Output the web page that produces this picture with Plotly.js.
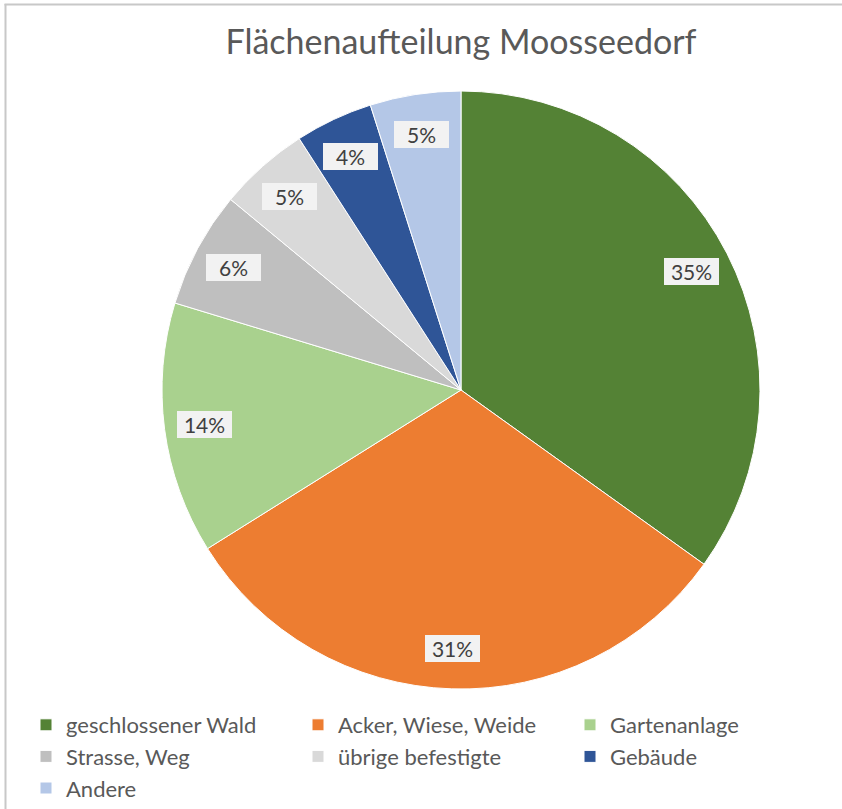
<!DOCTYPE html>
<html>
<head>
<meta charset="utf-8">
<script src="https://cdn.plot.ly/plotly-3.0.1.min.js"></script>
<style>html,body{margin:0;padding:0;background:#fff;}#chart{width:842px;height:809px;}</style>
</head>
<body>
<div id="chart"></div>
<script>
const categories = ["geschlossener Wald", "Acker, Wiese, Weide", "Gartenanlage", "Strasse, Weg", "übrige befestigte", "Gebäude", "Andere"];
const values = [34.9, 31.2, 13.6, 6.3, 4.9, 4.2, 4.9];
const colors = ["#548235", "#ED7D31", "#A9D18E", "#BFBFBF", "#D9D9D9", "#2F5597", "#B4C7E7"];
const chartTitle = "Flächenaufteilung Moosseedorf";

const W = 842, H = 809;
const FONT = "Lato, 'Open Sans', sans-serif";
const domX = [0.1924, 0.9026];
const domY = [0.1477, 0.8881];

// label annotations computed from the data (mid-angle of each slice)
const total = values.reduce((a, b) => a + b, 0);
const cx = (domX[0] + domX[1]) / 2 * W;
const cy = (1 - (domY[0] + domY[1]) / 2) * H;
const R = Math.min((domX[1] - domX[0]) * W, (domY[1] - domY[0]) * H) / 2;
const rLab = 0.865 * R;
let cum = 0;
const annotations = values.map((v, i) => {
  const mid = (cum + v / 2) / total * 2 * Math.PI;
  cum += v;
  const px = cx + rLab * Math.sin(mid);
  const py = cy - rLab * Math.cos(mid);
  return {
    x: px / W, y: 1 - py / H, xref: "paper", yref: "paper",
    text: Math.round(v / total * 100) + "%",
    showarrow: false,
    font: {family: FONT, size: 21, color: "#404040"},
    bgcolor: "#F2F2F2", borderwidth: 0, borderpad: 0,
    width: 55, height: 27, xanchor: "center", yanchor: "middle"
  };
});

const data = [{
  type: "pie",
  labels: categories,
  values: values,
  marker: {colors: colors, line: {color: "#FFFFFF", width: 1}},
  sort: false,
  direction: "clockwise",
  rotation: 0,
  textinfo: "none",
  hoverinfo: "label+percent",
  domain: {x: domX, y: domY}
}];

const layout = {
  width: W, height: H,
  margin: {l: 0, r: 0, t: 0, b: 0},
  paper_bgcolor: "#FFFFFF",
  font: {family: FONT, color: "#595959"},
  title: {
    text: chartTitle,
    font: {family: FONT, size: 34, color: "#595959"},
    x: 461 / W, xanchor: "center",
    y: 1 - 42 / H, yanchor: "middle", yref: "container"
  },
  showlegend: true,
  legend: {
    orientation: "h",
    x: 26 / W, xanchor: "left",
    y: 1 - 704 / H, yanchor: "top",
    font: {family: FONT, size: 22, color: "#595959"},
    entrywidth: 227, entrywidthmode: "pixels",
    traceorder: "normal",
    bgcolor: "rgba(0,0,0,0)"
  },
  annotations: annotations,
  shapes: [
    {type: "line", xref: "paper", yref: "paper", x0: 5.5 / W, x1: 5.5 / W, y0: 0, y1: 1 - 4 / H, line: {color: "#C8C8C8", width: 2}},
    {type: "line", xref: "paper", yref: "paper", x0: 4.5 / W, x1: 1, y0: 1 - 4.5 / H, y1: 1 - 4.5 / H, line: {color: "#C8C8C8", width: 2}}
  ]
};

Plotly.newPlot("chart", data, layout, {displayModeBar: false, staticPlot: true});
</script>
</body>
</html>
